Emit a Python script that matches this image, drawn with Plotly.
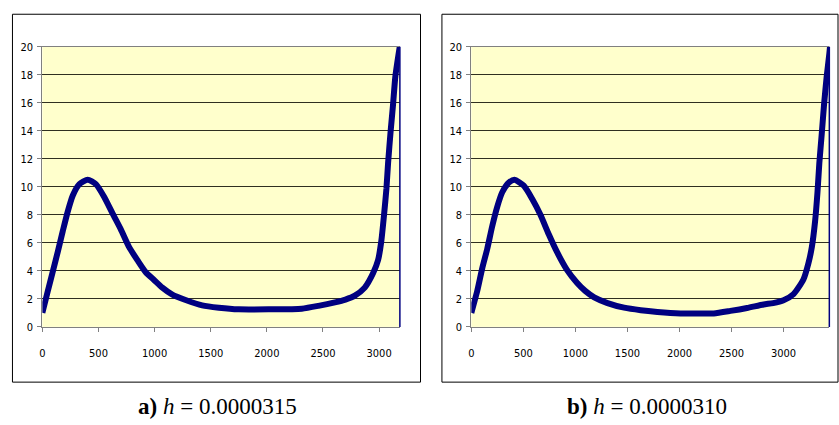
import plotly.graph_objects as go

# ---- data ----
x_a = [0, 49, 93, 137, 182, 226, 271, 330, 404, 477, 551, 625, 699, 773, 847, 921, 995, 1069, 1158, 1276,
       1424, 1572, 1749, 2015, 2311, 2459, 2606, 2700, 2784, 2872, 2947, 2991, 3020, 3044, 3065, 3080, 3103,
       3124, 3145, 3174, 3190]
y_a = [1.0, 2.57, 3.96, 5.35, 6.84, 8.23, 9.38, 10.19, 10.5, 10.19, 9.27, 8.1, 6.96, 5.69, 4.76, 3.9, 3.35,
       2.8, 2.3, 1.92, 1.54, 1.37, 1.25, 1.25, 1.3, 1.5, 1.75, 1.95, 2.23, 2.8, 3.84, 4.77, 6.15, 8.0, 9.85,
       11.7, 14.0, 15.85, 17.9, 19.5, 20.3]

x_b = [0, 57, 105, 153, 201, 249, 297, 361, 415, 504, 584, 664, 744, 823, 919, 1015, 1094, 1181, 1309, 1468,
       1628, 1788, 2011, 2170, 2330, 2489, 2649, 2808, 2900, 3000, 3096, 3191, 3239, 3272, 3303, 3326, 3344,
       3367, 3389, 3415, 3440, 3450]
y_b = [1.0, 2.57, 4.19, 5.57, 7.19, 8.57, 9.61, 10.3, 10.5, 10.08, 9.15, 8.0, 6.61, 5.35, 4.07, 3.15, 2.57,
       2.11, 1.7, 1.37, 1.19, 1.07, 0.96, 0.95, 0.96, 1.14, 1.35, 1.6, 1.7, 1.9, 2.34, 3.38, 4.54, 5.7, 7.53,
       9.6, 11.7, 13.77, 15.85, 17.9, 19.5, 20.3]

x_ticks = [0, 500, 1000, 1500, 2000, 2500, 3000]
y_ticks = [0, 2, 4, 6, 8, 10, 12, 14, 16, 18, 20]
captions = ["<b>a)</b> <i>h</i> = 0.0000315", "<b>b)</b> <i>h</i> = 0.0000310"]

W, H = 839, 425
LINE = "#000080"
BG = "#FFFFCC"
TICKFONT = dict(family="DejaVu Sans Condensed, Liberation Sans Narrow, Arial Narrow, Liberation Sans, Arial",
                size=11, color="#000000")

fig = go.Figure()
fig.add_trace(go.Scatter(x=x_a, y=y_a, mode="lines", xaxis="x", yaxis="y",
                         line=dict(color=LINE, width=6, shape="spline", smoothing=0.6),
                         showlegend=False, hoverinfo="skip"))
fig.add_trace(go.Scatter(x=x_b, y=y_b, mode="lines", xaxis="x2", yaxis="y2",
                         line=dict(color=LINE, width=6, shape="spline", smoothing=0.6),
                         showlegend=False, hoverinfo="skip"))


def px_x(p):
    return p / W


def px_y(p):
    return 1 - p / H


top, bot = px_y(42), px_y(331)
dom_a = [px_x(39.5), px_x(398.3)]
dom_b = [px_x(470), px_x(829.3)]

xcommon = dict(tickmode="array", tickvals=x_ticks, ticks="outside", ticklen=4, tickcolor="#808080",
               showline=True, linecolor="#808080", linewidth=1, mirror=True, showgrid=False,
               zeroline=False, tickfont=TICKFONT, ticklabelstandoff=12, fixedrange=True)
ycommon = dict(range=[0, 20], tickmode="array", tickvals=y_ticks, ticks="outside", ticklen=4,
               tickcolor="#808080", showline=True, linecolor="#808080", linewidth=1,
               showgrid=True, gridcolor="#2f2f20", gridwidth=1, zeroline=False,
               tickfont=TICKFONT, ticklabelstandoff=2, fixedrange=True)

fig.update_layout(
    width=W, height=H,
    margin=dict(l=0, r=0, t=0, b=0),
    paper_bgcolor="white",
    plot_bgcolor=BG,
    xaxis=dict(domain=dom_a, range=[0, 3185], anchor="y", **xcommon),
    yaxis=dict(domain=[bot, top], anchor="x", **ycommon),
    xaxis2=dict(domain=dom_b, range=[0, 3440], anchor="y2", **xcommon),
    yaxis2=dict(domain=[bot, top], anchor="x2", **ycommon),
)

# outer frames of the two chart objects
for x0, x1 in [(9.5, 419), (440.5, 838)]:
    fig.add_shape(type="rect", xref="paper", yref="paper",
                  x0=px_x(x0), x1=px_x(x1), y0=px_y(388), y1=px_y(8.5),
                  line=dict(color="#000000", width=1), fillcolor="rgba(0,0,0,0)", layer="below")

# thin dark-blue edge at the right end of each plot area
for xr, yr in [("x domain", "y domain"), ("x2 domain", "y2 domain")]:
    fig.add_shape(type="line", xref=xr, yref=yr, x0=1, x1=1, y0=0, y1=1.0,
                  line=dict(color=LINE, width=1.5))

for cap, cx in zip(captions, [px_x(215), px_x(646)]):
    fig.add_annotation(text=cap, xref="paper", yref="paper", x=cx, y=px_y(413),
                       showarrow=False, xanchor="center", yanchor="middle",
                       font=dict(family="Liberation Serif, Times New Roman, serif", size=23, color="#000000"))

fig.write_html("out.html")
